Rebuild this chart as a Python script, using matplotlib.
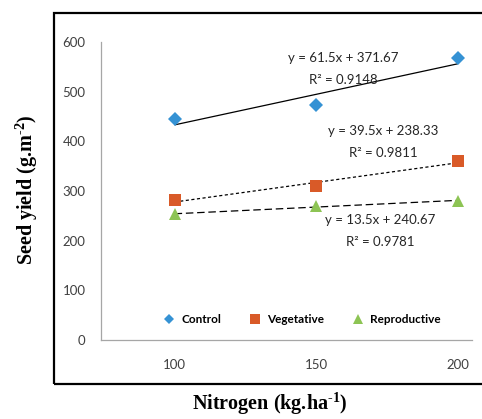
"""
Seed yield vs nitrogen, with linear trendlines.
"""

import numpy as np
import matplotlib.pyplot as plt
from matplotlib.patches import Rectangle

plt.rcParams["mathtext.fontset"] = "custom"
plt.rcParams["mathtext.rm"] = "Liberation Serif:bold"
plt.rcParams["mathtext.default"] = "rm"

nitrogen = ["100", "150", "200"]
control = [444, 473, 567]
vegetative = [281, 311, 360]
reproductive = [253, 270, 280]
y_ticks = [0, 100, 200, 300, 400, 500, 600]

series = [
    ("Control", control, "D", "#3592D4", 7, (0, ())),
    ("Vegetative", vegetative, "s", "#D95A28", 9, (0, (2.5, 2))),
    ("Reproductive", reproductive, "^", "#8DC454", 9, (0, (6, 3))),
]
labels_eq = [
    ("y = 61.5x + 371.67", "R² = 0.9148", (343, 58)),
    ("y = 39.5x + 238.33", "R² = 0.9811", (383, 131)),
    ("y = 13.5x + 240.67", "R² = 0.9781", (380, 220)),
]

W, H = 482, 419
fig = plt.figure(figsize=(W / 100, H / 100), dpi=100)
ax = fig.add_axes([101 / W, 1 - 340 / H, (472 - 101) / W, (340 - 42) / H])

# outer frame
fig.patches.append(Rectangle((54 / W, 1 - 384 / H), 1.0, (384 - 13) / H,
                             transform=fig.transFigure, fill=False,
                             edgecolor="black", linewidth=1.6))

pos = np.arange(len(nitrogen))
handles = []
for name, vals, mk, col, ms, ls in series:
    # trendline on category index 1..n, like the spreadsheet does
    k, b = np.polyfit(pos + 1, vals, 1)
    ax.plot(pos, k * (pos + 1) + b, color="black", lw=0.9, linestyle=ls, zorder=2)
    h, = ax.plot(pos, vals, linestyle="none", marker=mk, color=col,
                 markersize=ms, markeredgewidth=0, label=name, zorder=3)
    handles.append(h)

for eq, r2, (px, py) in labels_eq:
    x, y = px / W, 1 - py / H
    fig.text(x, y, eq, ha="center", va="center", fontsize=9.5,
             family="Lato", color="#262626")
    fig.text(x, y - 22 / H, r2, ha="center", va="center", fontsize=9.5,
             family="Lato", color="#262626")

ax.set_xlim(-0.52, 2.1)
ax.set_ylim(0, 600)
ax.set_xticks(pos)
ax.set_xticklabels(nitrogen)
ax.set_yticks(y_ticks)
ax.tick_params(length=0, labelsize=9.5, labelcolor="#404040")
ax.tick_params(axis="x", pad=14)
ax.tick_params(axis="y", pad=11)
for t in ax.get_xticklabels() + ax.get_yticklabels():
    t.set_family("Lato")
for s in ["top", "right"]:
    ax.spines[s].set_visible(False)
for s in ["left", "bottom"]:
    ax.spines[s].set_color("#A6A6A6")
    ax.spines[s].set_linewidth(0.9)

leg = ax.legend(handles=handles, loc="lower left", bbox_to_anchor=(0.14, 0.015),
                ncol=3, frameon=False, handletextpad=0.5, columnspacing=2.4,
                prop={"family": "Lato", "weight": "bold", "size": 8.5},
                handlelength=1.0, markerscale=0.75)

fig.text(27 / W, 1 - 190 / H, r"Seed yield (g.m$^{\text{-2}}$)", rotation=90,
         ha="center", va="center", fontsize=14.5, weight="bold",
         family="Liberation Serif")
fig.text(270 / W, 1 - 404 / H, r"Nitrogen (kg.ha$^{\text{-1}}$)",
         ha="center", va="center", fontsize=14.5, weight="bold",
         family="Liberation Serif")

fig.savefig("out.png", dpi=100)
